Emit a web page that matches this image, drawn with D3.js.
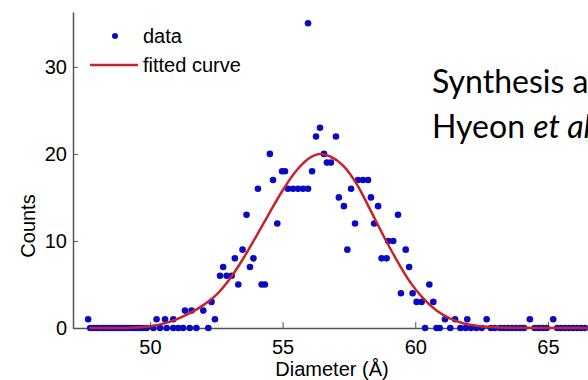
<!DOCTYPE html>
<html lang="en">
<head>
  <meta charset="UTF-8" />
  <title>Diameter histogram</title>
  <script src="https://d3js.org/d3.v7.min.js"></script>
  <style>
    html, body {
      margin: 0;
      padding: 0;
      width: 588px;
      height: 380px;
      overflow: hidden;
      background: #fff;
    }
    svg {
      display: block;
      font-family: "Liberation Sans", Arial, sans-serif;
    }
  </style>
</head>
<body>
<svg width="588" height="380"></svg>

<script>
// measured points (diameter in Å, counts)
const dataDiam = [
  47.67, 47.75, 47.88, 48.0, 48.13, 48.25, 48.38, 48.5, 48.63, 48.75, 48.88, 49.0, 49.13, 49.25,
  49.38, 49.5, 49.63, 49.75, 49.88, 50.13, 50.38, 50.63, 50.88, 51.07, 51.25, 51.5, 51.75, 52.2,
  50.25, 50.57, 50.88, 51.32, 51.57, 52.01, 52.32, 52.45, 52.64, 52.76, 52.89, 53.08, 53.2, 53.33,
  53.49, 53.64, 53.77, 53.9, 54.07, 54.21, 54.33, 54.52, 54.64, 54.8, 54.98, 55.09, 55.2, 55.39,
  55.58, 55.77, 55.96, 55.96, 56.11, 56.26, 56.41, 56.56, 56.67, 56.82, 57.01, 57.12, 57.31, 57.44,
  57.58, 57.73, 57.84, 58.03, 58.22, 58.33, 58.45, 58.6, 58.73, 58.92, 58.98, 59.17, 59.35, 59.46,
  59.64, 59.77, 59.9, 60.05, 60.24, 60.53, 60.68,
  60.37, 60.8, 60.92, 61.32, 61.7, 61.9, 62.1, 62.3, 62.5, 62.85, 63.0, 63.2, 63.35, 63.5, 63.65,
  63.8, 63.95, 64.1, 64.5, 64.65, 64.8, 64.95, 65.35, 65.5, 65.65, 65.8, 65.95, 66.1, 66.25, 66.4,
  61.12, 61.5, 61.96, 62.69, 64.32, 65.2
];
const dataCount = [
  1, 0, 0, 0, 0, 0, 0, 0, 0, 0, 0, 0, 0, 0,
  0, 0, 0, 0, 0, 0, 0, 0, 0, 0, 0, 0, 0, 0,
  1, 1, 1, 2, 2, 2, 3, 1, 6, 7, 6, 6, 8, 5,
  9, 13, 7, 8, 16, 5, 5, 20, 17, 12, 18, 18, 16, 16,
  16, 16, 16, 35, 18, 22, 23, 20, 19, 19, 22, 15, 14, 9,
  16, 12, 17, 17, 17, 15, 12, 14, 8, 8, 10, 10, 13, 4,
  9, 7, 4, 3, 3, 5, 3,
  0, 0, 0, 0, 0, 0, 0, 0, 0, 0, 0, 0, 0, 0, 0,
  0, 0, 0, 0, 0, 0, 0, 0, 0, 0, 0, 0, 0, 0, 0,
  1, 1, 1, 1, 1, 1
];

// fitted curve
const fitDiam = [47.72, 49.0, 49.5, 50.0, 50.5, 51.0, 51.5, 52.0, 52.5, 53.0, 53.5, 54.0, 54.5, 55.0, 55.5,
  56.0, 56.4, 56.8, 57.3, 57.8, 58.3, 58.8, 59.3, 59.8, 60.3, 60.8, 61.3, 61.8, 62.3, 63.0, 64.0, 66.51];
const fitCount = [0, 0.01, 0.05, 0.2, 0.5, 1.0, 1.7, 2.6, 3.8, 5.6, 7.9, 10.5, 13.2, 15.8, 18.0,
  19.5, 20, 19.7, 18.6, 16.5, 13.6, 10.6, 7.8, 5.3, 3.4, 2.0, 1.1, 0.55, 0.25, 0.08, 0.02, 0];

const xTicks = [50, 55, 60, 65];
const yTicks = [0, 10, 20, 30];

const svg = d3.select("svg");

const x = d3.scaleLinear().domain([47.1, 66.51]).range([73, 588]);
const y = d3.scaleLinear().domain([0, 36.3]).range([328, 12]);

const axisColor = "#555";

// x axis (ticks inward)
const gx = svg.append("g")
  .attr("transform", `translate(0,${y(0)})`)
  .call(d3.axisBottom(x).tickValues(xTicks).tickSize(-6).tickPadding(12).tickSizeOuter(0));
gx.select(".domain").attr("stroke", axisColor).attr("stroke-width", 1.5);
gx.selectAll(".tick line").attr("stroke", axisColor);
gx.selectAll("text").attr("font-size", 20).attr("fill", "#000").attr("dy", "0.71em");

// y axis
const gy = svg.append("g")
  .attr("transform", `translate(${x.range()[0]},0)`)
  .call(d3.axisLeft(y).tickValues(yTicks).tickSize(-5).tickPadding(6).tickSizeOuter(0));
gy.select(".domain").attr("stroke", axisColor).attr("stroke-width", 1.5);
gy.selectAll(".tick line").attr("stroke", axisColor);
gy.selectAll("text").attr("font-size", 20).attr("fill", "#000");

svg.append("text")
  .attr("x", 332).attr("y", 376)
  .attr("text-anchor", "middle")
  .attr("font-size", 20)
  .text("Diameter (Å)");

svg.append("text")
  .attr("transform", "translate(35,226) rotate(-90)")
  .attr("text-anchor", "middle")
  .attr("font-size", 20)
  .text("Counts");

// data points
const pts = dataDiam.map((d, i) => ({ d, c: dataCount[i] }));
svg.append("g")
  .selectAll("circle")
  .data(pts)
  .join("circle")
  .attr("cx", p => x(p.d))
  .attr("cy", p => y(p.c))
  .attr("r", 3.3)
  .attr("fill", "#0a0ac4");

// fitted curve on top
const fit = fitDiam.map((d, i) => [d, fitCount[i]]);
svg.append("path")
  .datum(fit)
  .attr("fill", "none")
  .attr("stroke", "#c8232a")
  .attr("stroke-width", 2.5)
  .attr("d", d3.line().x(p => x(p[0])).y(p => y(p[1])).curve(d3.curveMonotoneX));

// legend
const legend = svg.append("g");
legend.append("circle").attr("cx", 115).attr("cy", 36).attr("r", 3).attr("fill", "#0a0ac4");
legend.append("text").attr("x", 143).attr("y", 43).attr("font-size", 20).text("data");
legend.append("line").attr("x1", 90).attr("x2", 138).attr("y1", 65).attr("y2", 65)
  .attr("stroke", "#c8232a").attr("stroke-width", 2.5);
legend.append("text").attr("x", 143).attr("y", 72).attr("font-size", 20).text("fitted curve");

// slide text that runs off the right edge
const slide = svg.append("g").attr("font-family", "Lato, 'Open Sans', sans-serif").attr("font-size", 32);
slide.append("text").attr("x", 432).attr("y", 93).text("Synthesis and");
const l2 = slide.append("text").attr("x", 432).attr("y", 138);
l2.append("tspan").text("Hyeon ");
l2.append("tspan").attr("font-style", "italic").text("et al.");
</script>
</body>
</html>
